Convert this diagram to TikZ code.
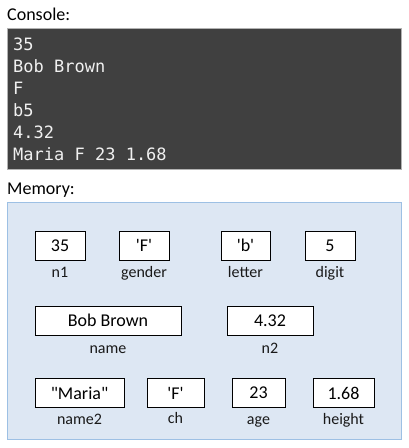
\documentclass[tikz,border=0pt]{standalone}
\usepackage{fontspec}
\setmainfont{Carlito}
\newfontfamily\consolefont{DejaVu Sans Mono}
\usetikzlibrary{positioning}
\definecolor{consolebg}{RGB}{64,64,64}
\definecolor{memorybg}{RGB}{221,231,243}
\definecolor{memoryline}{RGB}{157,192,228}
\begin{document}
\begin{tikzpicture}[x=1pt,y=-1pt,
  every node/.style={inner sep=0pt},
  heading/.style={anchor=base west,font=\fontsize{18}{22}\selectfont},
  conline/.style={anchor=base west,text=white!94!black,font=\consolefont\fontsize{17}{22}\selectfont},
  cell/.style={draw=black,fill=white,line width=0.8pt,minimum height=29pt,font=\fontsize{18}{22}\selectfont},
  varname/.style={anchor=base,font=\fontsize{16}{20}\selectfont,text=black!90}]
\useasboundingbox (0,0) rectangle (408,448);
% console
\node (console) [heading] at (7,20) {Console:};
\draw[draw=gray!60,fill=consolebg,line width=0.8pt] (7,28) rectangle (401,169);
\foreach \txt [count=\i] in {35, Bob Brown, F, b5, 4.32, Maria F 23 1.68}
  \node (con-\i) [conline] at (13,28+22*\i) {\txt};
% memory
\node (memory) [heading] at (7,194) {Memory:};
\draw[draw=memoryline,fill=memorybg,line width=1pt] (7,202) rectangle (401,439);
% row 1
\node (n1) [cell,minimum width=50pt] at (60,245.5) {35};
\node (gender) [cell,minimum width=50pt] at (144,245.5) {\textquotesingle F\textquotesingle};
\node (letter) [cell,minimum width=49pt] at (245.5,245.5) {\textquotesingle b\textquotesingle};
\node (digit) [cell,minimum width=50pt] at (330,245.5) {5};
% row 2
\node (name) [cell,minimum width=146pt] at (108,320.5) {Bob Brown};
\node (n2) [cell,minimum width=86pt] at (270,320.5) {4.32};
% row 3
\node (name2) [cell,minimum width=89pt] at (79.5,393) {\textquotedbl Maria\textquotedbl};
\node (ch) [cell,minimum width=57pt] at (175.5,393) {\textquotesingle F\textquotesingle};
\node (age) [cell,minimum width=53pt] at (258.5,393) {23};
\node (height) [cell,minimum width=61pt] at (343.5,393) {1.68};
% variable names
\node (n1-name) [varname] at ([yshift=-17pt]n1.south) {n1};
\node (gender-name) [varname] at ([yshift=-17pt]gender.south) {gender};
\node (letter-name) [varname] at ([yshift=-17pt]letter.south) {letter};
\node (digit-name) [varname] at ([yshift=-17pt]digit.south) {digit};
\node (name-name) [varname] at ([yshift=-18pt]name.south) {name};
\node (n2-name) [varname] at ([yshift=-18pt]n2.south) {n2};
\node (name2-name) [varname] at ([yshift=-17pt]name2.south) {name2};
\node (ch-name) [varname] at ([yshift=-16pt]ch.south) {ch};
\node (age-name) [varname] at ([yshift=-17pt]age.south) {age};
\node (height-name) [varname] at ([yshift=-17pt]height.south) {height};
\end{tikzpicture}
\end{document}
